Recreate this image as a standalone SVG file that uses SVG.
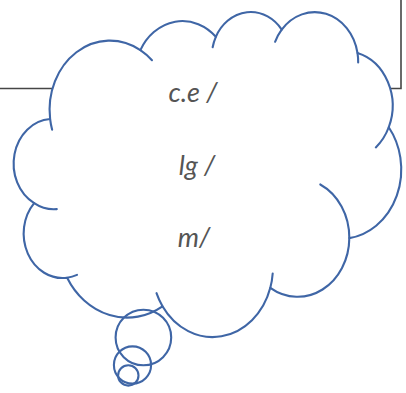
<svg xmlns="http://www.w3.org/2000/svg" width="406" height="393" viewBox="0 0 406 393">
  <style>
    .frame { fill: none; stroke: #454545; stroke-width: 1.6; }
    .cloud { fill: #ffffff; stroke: #3f66a6; stroke-width: 2.1; stroke-linejoin: round; }
    .tick { fill: none; stroke: #3f66a6; stroke-width: 2.1; stroke-linecap: round; }
    .bubble { fill: none; stroke: #3f66a6; stroke-width: 2.1; }
    .lbl { font-family: Lato, "Open Sans", "Liberation Sans", sans-serif; font-style: italic; font-size: 27px; fill: #555555; text-anchor: middle; }
  </style>
  <rect width="406" height="393" fill="#ffffff"/>
  <g id="connectors">
    <path class="frame" d="M0,88.5 H401 V0"/>
  </g>
  <g id="cloud">
    <g transform="matrix(0.00893,0,0,0.00752,15.3,11)">
      <path class="cloud" vector-effect="non-scaling-stroke" d="M3900,14370 A6753,9190 0 0 1 14005,5201 A5333,7267 0 0 1 22458,3432 A4365,5945 0 0 1 29834,2479 A4857,6595 0 0 1 38318,5575 A5333,7273 0 0 1 41819,15459 A6775,9220 0 0 1 37404,30202 A5785,7867 0 0 1 28556,36813 A6752,9215 0 0 1 16481,39265 A7720,10543 0 0 1 5804,35471 A4360,5918 0 0 1 2112,25550 A4345,5945 0 0 1 3900,14370 Z"/>
      <path class="tick" vector-effect="non-scaling-stroke" d="M4126,15788 A6753,9190 0 0 1 3900,14370 M14005,5201 A6753,9190 0 0 1 15305,6550 M22099,4820 A4365,5945 0 0 1 22458,3432 M29091,4090 A4857,6595 0 0 1 29834,2479 M38318,5575 A4857,6595 0 0 1 38395,6838 M41819,15459 A5333,7273 0 0 1 40370,18136 M34152,23067 A5785,7867 0 0 1 37404,30202 M28823,34904 A6752,9215 0 0 1 28556,36813 M16481,39265 A6752,9215 0 0 1 15813,37525 M6913,35089 A4360,5918 0 0 1 5804,35471 M4646,26347 A4345,5945 0 0 1 2112,25550"/>
    </g>
    <text class="lbl" x="193" y="102">c.e /</text>
    <text class="lbl" x="197" y="175">lg /</text>
    <text class="lbl" x="194" y="247">m/</text>
  </g>
  <g id="bubble-large"><circle class="bubble" cx="143.4" cy="337.5" r="27.8"/></g>
  <g id="bubble-medium"><circle class="bubble" cx="132.5" cy="365" r="18.6"/></g>
  <g id="bubble-small"><circle class="bubble" cx="128.3" cy="375.4" r="10.2"/></g>
</svg>
